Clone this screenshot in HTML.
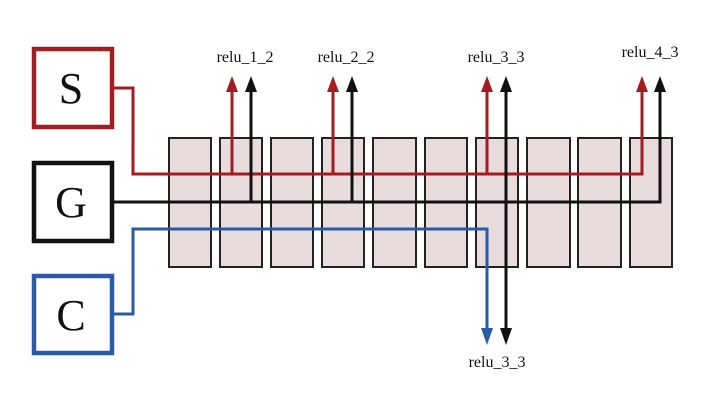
<!DOCTYPE html>
<html><head><style>body{margin:0;background:#fff}svg{display:block}</style></head><body>
<svg width="717" height="403" viewBox="0 0 717 403" xmlns="http://www.w3.org/2000/svg">
<g fill="#e8dcdc" stroke="#222" stroke-width="2">
<rect x="169" y="138" width="42" height="129"/><rect x="220" y="138" width="42" height="129"/>
<rect x="271" y="138" width="42" height="129"/><rect x="322" y="138" width="42" height="129"/>
<rect x="373" y="138" width="43" height="129"/><rect x="425" y="138" width="42" height="129"/>
<rect x="476" y="138" width="42" height="129"/><rect x="527" y="138" width="43" height="129"/>
<rect x="578" y="138" width="43" height="129"/><rect x="630" y="138" width="42" height="129"/>
</g>
<g fill="#fff" stroke-width="4.5">
<rect x="34" y="49" width="78" height="78" stroke="#a31d20"/>
<rect x="34" y="163" width="78" height="78" stroke="#111"/>
<rect x="34" y="276" width="78" height="77" stroke="#2a5aa8"/>
</g>
<g font-family="Liberation Serif, serif" font-size="44" text-anchor="middle" fill="#111">
<text x="71" y="103">S</text><text x="71" y="217">G</text><text x="71" y="330">C</text>
</g>
<g fill="none" stroke-width="3">
<polyline points="113,88 133,88 133,174 642,174 642,90" stroke="#a31d20"/>
<line x1="232" y1="174" x2="232" y2="90" stroke="#a31d20"/>
<line x1="333" y1="174" x2="333" y2="90" stroke="#a31d20"/>
<line x1="487" y1="174" x2="487" y2="90" stroke="#a31d20"/>
<polyline points="113,202 660,202 660,90" stroke="#111"/>
<line x1="251" y1="202" x2="251" y2="90" stroke="#111"/>
<line x1="352" y1="202" x2="352" y2="90" stroke="#111"/>
<line x1="506" y1="90" x2="506" y2="330" stroke="#111"/>
<polyline points="113,314 133,314 133,229 487,229 487,330" stroke="#2a5aa8"/>
</g>
<g>
<path d="M226,92 L232,76 L238,92Z" fill="#a31d20"/><path d="M327,92 L333,76 L339,92Z" fill="#a31d20"/>
<path d="M481,92 L487,76 L493,92Z" fill="#a31d20"/><path d="M636,92 L642,76 L648,92Z" fill="#a31d20"/>
<path d="M245,92 L251,76 L257,92Z" fill="#111"/><path d="M346,92 L352,76 L358,92Z" fill="#111"/>
<path d="M500,92 L506,76 L512,92Z" fill="#111"/><path d="M654,92 L660,76 L666,92Z" fill="#111"/>
<path d="M481,328 L487,345 L493,328Z" fill="#2a5aa8"/><path d="M500,328 L506,345 L512,328Z" fill="#111"/>
</g>
<g font-family="Liberation Serif, serif" font-size="16" text-anchor="middle" fill="#111">
<text x="245" y="62">relu_1_2</text><text x="346" y="62">relu_2_2</text>
<text x="496" y="62">relu_3_3</text><text x="650" y="57">relu_4_3</text>
<text x="497" y="367">relu_3_3</text>
</g>
</svg>
</body></html>
